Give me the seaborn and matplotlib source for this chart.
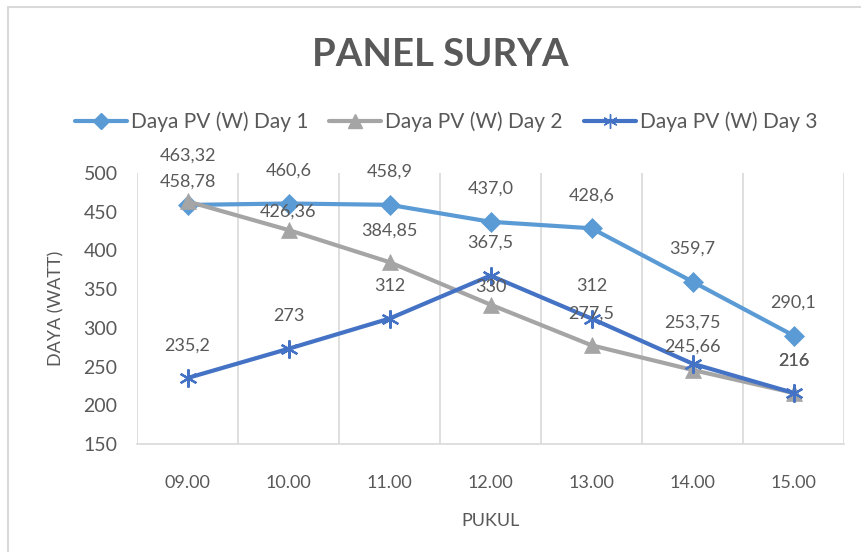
import matplotlib
matplotlib.use("Agg")
import matplotlib.pyplot as plt
import seaborn as sns
import pandas as pd
from matplotlib.patches import Rectangle
from matplotlib.lines import Line2D

# ---- data ----
hours = ["09.00", "10.00", "11.00", "12.00", "13.00", "14.00", "15.00"]
series_names = ["Daya PV (W) Day 1", "Daya PV (W) Day 2", "Daya PV (W) Day 3"]
day1 = [458.78, 460.6, 458.9, 437.0, 428.6, 359.7, 290.1]
day2 = [463.32, 426.36, 384.85, 330, 277.5, 245.66, 216]
day3 = [235.2, 273, 312, 367.5, 312, 253.75, 216]
labels1 = ["458,78", "460,6", "458,9", "437,0", "428,6", "359,7", "290,1"]
labels2 = ["463,32", "426,36", "384,85", "330", "277,5", "245,66", "216"]
labels3 = ["235,2", "273", "312", "367,5", "312", "253,75", "216"]
y_ticks = [150, 200, 250, 300, 350, 400, 450, 500]

# ---- styles ----
colors = ["#5B9BD5", "#A5A5A5", "#4472C4"]
markers = ["D", "^", (6, 2, 0)]
msizes = [10, 12, 13]
# label offsets above point (pixels)
offsets = [
    [23, 33, 33, 33, 33, 33, 33],
    [46, 18, 32, 18, 32, 23, 32],
    [32, 33, 33, 33, 33, 41, 32],
]
TXT = "#595959"
FONT = "Lato"

sns.set_theme(style="white")
plt.rcParams["font.family"] = [FONT, "DejaVu Sans"]

W, H = 861, 552
fig = plt.figure(figsize=(W / 100, H / 100), dpi=100)
ax = fig.add_axes([137 / W, 1 - 444 / H, (844 - 137) / W, (444 - 173) / H])

rows = []
for name, vals in zip(series_names, [day1, day2, day3]):
    for i, v in enumerate(vals):
        rows.append({"x": i, "y": v, "series": name})
df = pd.DataFrame(rows)

for k, name in enumerate(series_names):
    sub = df[df["series"] == name]
    sns.lineplot(data=sub, x="x", y="y", ax=ax, color=colors[k], linewidth=3,
                 marker=markers[k], markersize=msizes[k], markeredgecolor=colors[k],
                 markeredgewidth=1.6 if k == 2 else 0.5, legend=False, zorder=3 + k)

all_vals = [day1, day2, day3]
all_labels = [labels1, labels2, labels3]
for k in range(3):
    for i, (v, lab) in enumerate(zip(all_vals[k], all_labels[k])):
        ax.annotate(lab, (i, v), xytext=(0, offsets[k][i] * 0.72), textcoords="offset points",
                    ha="center", va="center", fontsize=13, color=TXT, zorder=10)

ax.set_xlim(-0.5, 6.5)
ax.set_ylim(150, 500)
ax.set_xticks(range(len(hours)))
ax.set_xticklabels(hours)
ax.set_yticks(y_ticks)
ax.set_xticks([i - 0.5 for i in range(len(hours) + 1)], minor=True)
ax.grid(False)
ax.grid(True, which="minor", axis="x", color="#D9D9D9", linewidth=1.2)
ax.tick_params(axis="both", which="both", length=0)
ax.tick_params(axis="x", labelsize=13, labelcolor=TXT, pad=22)
ax.tick_params(axis="y", labelsize=14, labelcolor=TXT, pad=14)
for s in ["top", "right", "left"]:
    ax.spines[s].set_visible(False)
ax.spines["bottom"].set_color("#D9D9D9")
ax.spines["bottom"].set_linewidth(1.2)

ax.set_xlabel("PUKUL", fontsize=13, color=TXT, labelpad=16)
ax.set_ylabel("DAYA (WATT)", fontsize=13, color=TXT, labelpad=14)

fig.text(440 / W, 1 - 55 / H, "PANEL SURYA", ha="center", va="center",
         fontsize=27.5, fontweight="bold", color=TXT)

handles = [Line2D([0], [0], color=colors[k], linewidth=3, marker=markers[k],
                  markersize=msizes[k] * 0.8, markeredgecolor=colors[k]) for k in range(3)]
fig.legend(handles, series_names, loc="center", bbox_to_anchor=(446 / W, 1 - 122 / H),
           ncol=3, frameon=False, fontsize=15, handlelength=2.5, handletextpad=0.2,
           columnspacing=1.0, labelcolor=TXT)

fig.patches.append(Rectangle((8 / W, -0.1), 1.2, 1 - 7 / H + 0.1, transform=fig.transFigure,
                             fill=False, edgecolor="#D9D9D9", linewidth=1.5))

fig.savefig("out.png", dpi=100)
